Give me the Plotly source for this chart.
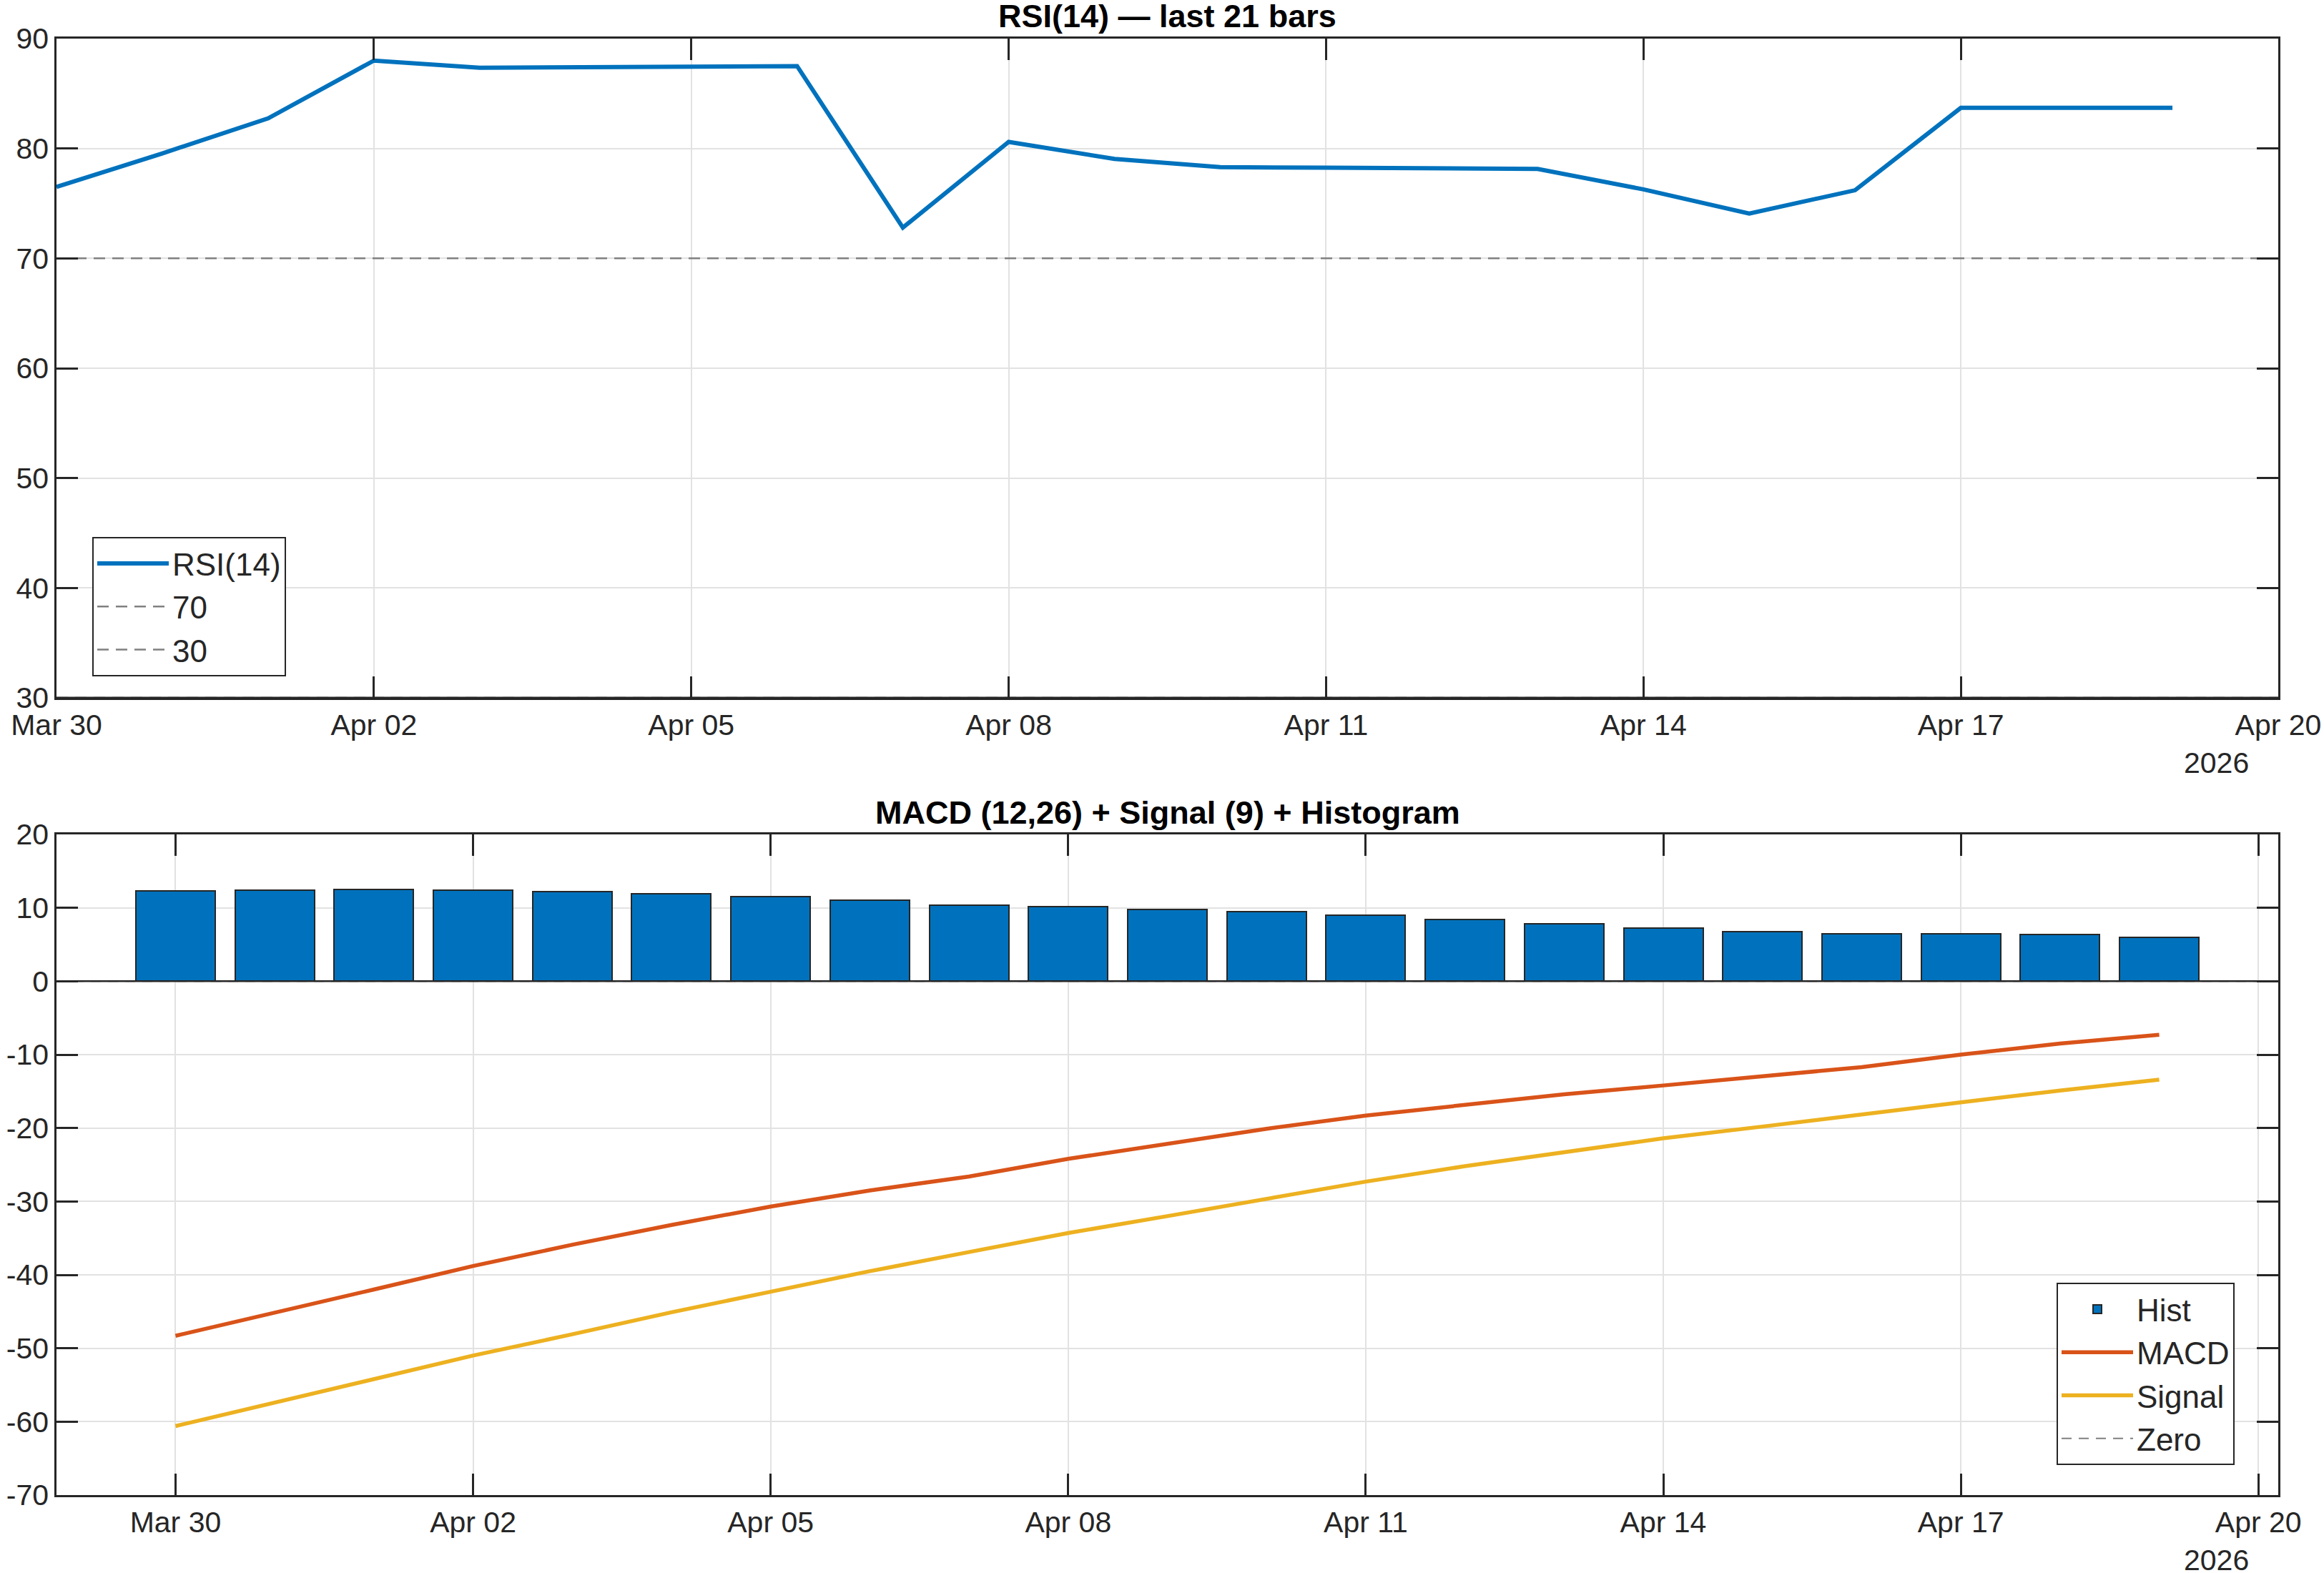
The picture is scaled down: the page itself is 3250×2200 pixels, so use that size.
import plotly.graph_objects as go
import pandas as pd

# ---------------- data ----------------
dates = ["2026-03-30", "2026-03-31", "2026-04-01", "2026-04-02", "2026-04-03",
         "2026-04-04", "2026-04-05", "2026-04-06", "2026-04-07", "2026-04-08",
         "2026-04-09", "2026-04-10", "2026-04-11", "2026-04-12", "2026-04-13",
         "2026-04-14", "2026-04-15", "2026-04-16", "2026-04-17", "2026-04-18",
         "2026-04-19"]

rsi = [76.5, 79.55, 82.74, 88.0, 87.35, 87.4, 87.45, 87.5, 72.8, 80.6,
       79.05, 78.3, 78.25, 78.2, 78.14, 76.28, 74.08, 76.2, 83.7, 83.7, 83.7]

hist = [12.31, 12.45, 12.52, 12.45, 12.24, 11.90, 11.49, 11.08, 10.40, 10.19,
        9.78, 9.44, 8.96, 8.41, 7.80, 7.25, 6.77, 6.43, 6.50, 6.36, 6.02]

macd = [-48.3, -45.2, -42.0, -38.8, -35.9, -33.2, -30.7, -28.5, -26.6, -24.2,
        -22.1, -20.1, -18.3, -16.8, -15.4, -14.2, -13.0, -11.7, -10.0, -8.5, -7.3]

signal = [-60.6, -57.4, -54.2, -51.0, -48.1, -45.1, -42.3, -39.5, -36.9, -34.3,
          -32.0, -29.7, -27.3, -25.2, -23.3, -21.4, -19.8, -18.1, -16.5, -14.9, -13.4]

rsi_levels = [70, 30]
zero_level = 0

macd_tickvals = [-70, -60, -50, -40, -30, -20, -10, 0, 10, 20]
macd_ticktext = ["-70", "-60", "-50", "-40", "-30", "-20", "-10", "0", "10", "20"]

title_top = "RSI(14) — last 21 bars"
title_bottom = "MACD (12,26) + Signal (9) + Histogram"
year_label = "2026"

# ---------------- style ----------------
W, H = 3250, 2200
FONT = "Liberation Sans, Arial, Helvetica, sans-serif"
TXT = "#262626"
GRID = "#e2e2e2"
AX = "#262626"
BLUE = "#0072BD"
ORANGE = "#D95319"
YELLOW = "#EDB120"
GRAY = "#808080"

DAY = 86400000
d0 = pd.Timestamp(dates[0])
d1 = pd.Timestamp(dates[-1])
top_range = [d0, pd.Timestamp("2026-04-20")]
bot_range = [d0 - pd.Timedelta(hours=28.8), d1 + pd.Timedelta(hours=28.8)]

# pixel layout
L, R = 79, 3186
PW = R - L
top_t, top_b = 54, 976
bot_t, bot_b = 1167, 2091

fig = go.Figure()

# ---- top: RSI ----
fig.add_trace(go.Scatter(x=dates, y=rsi, mode="lines", name="RSI(14)",
                         line=dict(color=BLUE, width=6),
                         xaxis="x", yaxis="y", legend="legend"))
for lv in rsi_levels:
    fig.add_trace(go.Scatter(x=top_range, y=[lv, lv], mode="lines", name=str(lv),
                             line=dict(color=GRAY, width=2.5, dash="16px,10px"),
                             xaxis="x", yaxis="y", legend="legend"))

# ---- bottom: MACD ----
fig.add_trace(go.Bar(x=dates, y=hist, name="Hist",
                     marker=dict(color=BLUE, line=dict(color="#262626", width=2)),
                     width=0.8 * DAY, xaxis="x2", yaxis="y2", legend="legend2"))
fig.add_trace(go.Scatter(x=dates, y=macd, mode="lines", name="MACD",
                         line=dict(color=ORANGE, width=5.5),
                         xaxis="x2", yaxis="y2", legend="legend2"))
fig.add_trace(go.Scatter(x=dates, y=signal, mode="lines", name="Signal",
                         line=dict(color=YELLOW, width=5.5),
                         xaxis="x2", yaxis="y2", legend="legend2"))
fig.add_trace(go.Scatter(x=bot_range, y=[zero_level, zero_level], mode="lines", name="Zero",
                         line=dict(color=GRAY, width=2, dash="14px,10px"),
                         xaxis="x2", yaxis="y2", legend="legend2"))

# bar baseline (solid, on top) and bottom edge of RSI box drawn above traces
fig.add_shape(type="line", xref="x2 domain", yref="y2", x0=0, x1=1,
              y0=zero_level, y1=zero_level, line=dict(color=AX, width=2.5),
              layer="above")
fig.add_shape(type="line", xref="x domain", yref="y domain", x0=0, x1=1,
              y0=0, y1=0, line=dict(color=AX, width=3), layer="above")


def py(px):
    return (H - px) / H


axis_common = dict(showline=True, linecolor=AX, linewidth=2.5, mirror="allticks",
                   ticks="inside", ticklen=30, tickwidth=2.5, tickcolor=AX,
                   showgrid=True, gridcolor=GRID, gridwidth=2,
                   zeroline=False, automargin=False,
                   tickfont=dict(family=FONT, size=41, color=TXT))

fig.update_layout(
    width=W, height=H,
    margin=dict(l=L, r=W - R, t=0, b=0, autoexpand=False),
    paper_bgcolor="white", plot_bgcolor="white",
    font=dict(family=FONT, size=41, color=TXT),
    bargap=0,
    xaxis=dict(domain=[0, 1], anchor="y", type="date", range=top_range,
               tick0=dates[0], dtick=3 * DAY, tickformat="%b %d", **axis_common),
    yaxis=dict(domain=[py(top_b), py(top_t)], anchor="x", range=[30, 90],
               dtick=10, **axis_common),
    xaxis2=dict(domain=[0, 1], anchor="y2", type="date", range=bot_range,
                tick0=dates[0], dtick=3 * DAY, tickformat="%b %d", **axis_common),
    yaxis2=dict(domain=[py(bot_b), py(bot_t)], anchor="x2", range=[-70, 20],
                tickmode="array", tickvals=macd_tickvals, ticktext=macd_ticktext,
                **axis_common),
    legend=dict(x=(129 - L) / PW, xanchor="left", y=py(946), yanchor="bottom",
                bgcolor="white", bordercolor=AX, borderwidth=2,
                font=dict(family=FONT, size=44, color=TXT),
                tracegroupgap=0, itemwidth=100),
    legend2=dict(x=(3125 - L) / PW, xanchor="right", y=py(2049), yanchor="bottom",
                 bgcolor="white", bordercolor=AX, borderwidth=2,
                 font=dict(family=FONT, size=44, color=TXT),
                 tracegroupgap=0, itemwidth=100),
    showlegend=True,
)

# titles
for t, yref in [(title_top, "y domain"), (title_bottom, "y2 domain")]:
    fig.add_annotation(text="<b>%s</b>" % t, xref="paper", yref=yref, x=0.5, y=1,
                       xanchor="center", yanchor="middle", yshift=31, showarrow=False,
                       font=dict(family=FONT, size=45, color="#000000"))

# year secondary labels
for yref in ["y domain", "y2 domain"]:
    fig.add_annotation(text=year_label, xref="paper", yref=yref,
                       x=1 - 39 / PW, y=0, xanchor="right", yanchor="middle",
                       yshift=-91, showarrow=False,
                       font=dict(family=FONT, size=41, color=TXT))

fig.write_html("out.html")
